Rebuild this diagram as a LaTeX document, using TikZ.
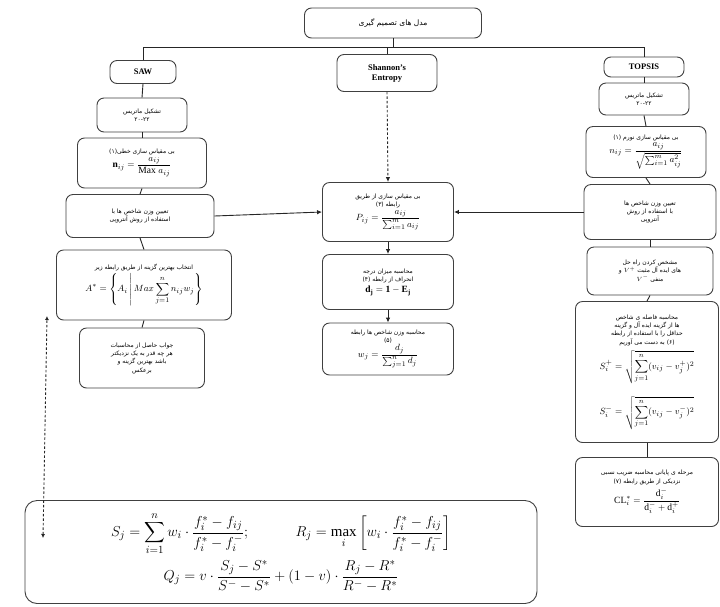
\documentclass[tikz,border=0pt]{standalone}
\usepackage{amsmath}
\usepackage{fontspec}
\setmainfont{Liberation Serif}
\newfontfamily\fafont[Script=Arabic]{DejaVu Sans}
\TeXXeTstate=1
\usetikzlibrary{arrows.meta}
\newcommand\fa[1]{\beginR #1\endR}
\newcommand\mth[1]{{\fontsize{9.5}{11}\selectfont$\displaystyle #1$}}
\tikzset{
  bx/.style={draw=black!75, line width=0.9pt, rounded corners=7pt, fill=white, align=center, inner sep=2pt,
             font=\fafont\fontsize{6}{8.3}\selectfont},
  lbl/.style={bx, font=\bfseries\fontsize{8.5}{10}\selectfont},
  ln/.style={draw=black!85, line width=0.9pt},
  arr/.style={ln, -{Latex[length=5pt,width=4.5pt]}},
  darr/.style={ln, dashed, dash pattern=on 2.5pt off 2pt, -{Latex[length=5pt,width=4.5pt]}},
  ddarr/.style={ln, dashed, dash pattern=on 2.5pt off 2pt, {Latex[length=4pt,width=4pt]}-{Latex[length=4pt,width=4pt]}}
}
\begin{document}
\begin{tikzpicture}[x=1pt,y=-1pt]
\useasboundingbox (0,0) rectangle (720,606);
% top
\node[bx, minimum width=177pt, minimum height=30pt, font=\fafont\fontsize{7.5}{9}\selectfont] (top) at (393,23) {\fa{مدل های تصمیم گیری}};
\coordinate (bus) at (393,47);
% SAW column
\node[lbl, minimum width=66pt, minimum height=23pt] (saw) at (143,72) {SAW};
\node[bx, minimum width=90pt, minimum height=34pt] (saw2) at (142,115) {\fa{تشکیل ماتریس}\\ \beginL ۲۰-۲۲\endL};
\node[bx, minimum width=129pt, minimum height=50pt] (saw3) at (142,163) {\fa{بی مقیاس سازی خطی(۱)}\\[1pt] \mth{\mathbf{n}_{ij}=\frac{a_{ij}}{\mathrm{Max}\;a_{ij}}}};
\node[bx, minimum width=148pt, minimum height=43pt] (saw4) at (140,216) {\fa{تعیین وزن شاخص ها با}\\ \fa{استفاده از روش آنتروپی}};
\node[bx, minimum width=175pt, minimum height=70pt] (saw5) at (144,285) {\fa{انتخاب بهترین گزینه از طریق رابطه زیر}\\[1pt] \mth{A^*=\left\{A_i\,\middle|\,Max\sum_{j=1}^{n} n_{ij}w_j\right\}}};
\node[bx, minimum width=125pt, minimum height=60pt] (saw6) at (142,358) {\fa{جواب حاصل از محاسبات}\\ \fa{هر چه قدر به یک نزدیکتر}\\ \fa{باشد بهترین گزینه و}\\ \fa{برعکس}};
% Entropy column
\node[lbl, minimum width=100pt, minimum height=37pt, align=center] (sh) at (387,73) {Shannon's\\Entropy};
\node[bx, minimum width=131pt, minimum height=59pt] (e1) at (388,212) {\fa{بی مقیاس سازی از طریق}\\ \fa{رابطه (۳)}\\[1pt] \mth{P_{ij}=\frac{a_{ij}}{\sum_{i=1}^{m}a_{ij}}}};
\node[bx, minimum width=131pt, minimum height=55pt] (e2) at (388,282) {\fa{محاسبه میزان درجه}\\ \fa{انحراف از رابطه (۴)}\\[3pt] \mth{\mathbf{d_j=1-E_j}}};
\node[bx, minimum width=131pt, minimum height=52pt] (e3) at (388,349) {\fa{محاسبه وزن شاخص ها رابطه}\\ \fa{(۵)}\\ \mth{w_j=\frac{d_j}{\sum_{j=1}^{n}d_j}}};
% TOPSIS column
\node[lbl, minimum width=80pt, minimum height=20pt] (tp) at (644,67) {TOPSIS};
\node[bx, minimum width=90pt, minimum height=32pt] (t2) at (644,99) {\fa{تشکیل ماتریس}\\ \beginL ۲۰-۲۲\endL};
\node[bx, minimum width=120pt, minimum height=51pt] (t3) at (646,152) {\fa{بی مقیاس سازی نورم (۱)}\\[1pt] \mth{n_{ij}=\frac{a_{ij}}{\sqrt{\sum_{i=1}^{m}a_{ij}^2}}}};
\node[bx, minimum width=132pt, minimum height=55pt] (t4) at (650,212) {\fa{تعیین وزن شاخص ها}\\ \fa{با استفاده از روش}\\ \fa{آنتروپی}};
\node[bx, minimum width=126pt, minimum height=48pt] (t5) at (650,271) {\fa{مشخص کردن راه حل}\\ \fa{های ایده آل مثبت \beginL$V^{+}$\endL{} و}\\ \fa{منفی \beginL$V^{-}$\endL}};
\node[bx, minimum width=143pt, minimum height=141pt] (t6) at (647,372) {\fa{محاسبه فاصله ی شاخص}\\ \fa{ها از گزینه ایده آل و گزینه}\\ \fa{حداقل را با استفاده از رابطه}\\ \fa{(۶) به دست می آوریم}\\[4pt] \mth{S_i^+=\sqrt{\sum_{j=1}^{n}(v_{ij}-v_j^+)^2}}\\[12pt] \mth{S_i^-=\sqrt{\sum_{j=1}^{n}(v_{ij}-v_j^-)^2}}};
\node[bx, minimum width=143pt, minimum height=69pt] (t7) at (647,492) {\fa{مرحله ی پایانی محاسبه ضریب نسبی}\\ \fa{نزدیکی از طریق رابطه (۷)}\\[3pt] \mth{\mathrm{CL}_i^*=\frac{\mathrm{d}_i^-}{\mathrm{d}_i^-+\mathrm{d}_i^+}}};
% bottom
\node[bx, rounded corners=12pt, minimum width=512pt, minimum height=103pt] (bot) at (281,552) {{\fontsize{15}{17}\selectfont$\displaystyle S_j=\sum_{i=1}^{n}w_i\cdot\frac{f_i^*-f_{ij}}{f_i^*-f_i^-};\qquad\quad R_j=\max_i\left[w_i\cdot\frac{f_i^*-f_{ij}}{f_i^*-f_i^-}\right]$}\\[4pt] {\fontsize{15}{17}\selectfont$\displaystyle Q_j=v\cdot\frac{S_j-S^*}{S^--S^*}+(1-v)\cdot\frac{R_j-R^*}{R^--R^*}$}};
% connectors
\draw[ln] (top.south) -- (bus);
\draw[ln] (saw.north) -- (saw.north |- bus) -- (tp.north |- bus) -- (tp.north);
\draw[ln] (sh.north) -- (sh.north |- bus);
\draw[ln] (saw.south) -- (saw2.north);
\draw[ln] (saw2.south) -- (saw3.north);
\draw[ln] (saw3.south) -- (saw4.north);
\draw[ln] (saw4.south) -- (saw5.north);
\draw[ln] (saw5.south) -- (saw6.north);
\draw[ln] (tp.south) -- (t2.north);
\draw[ln] (t2.south) -- (t3.north);
\draw[ln] (t3.south) -- (t4.north);
\draw[ln] (t4.south) -- (t5.north);
\draw[ln] (t5.south) -- (t6.north);
\draw[ln] (t6.south) -- (t7.north);
\draw[darr] (sh.south) -- (e1.north);
\draw[arr] (e1.south) -- (e2.north);
\draw[arr] (e2.south) -- (e3.north);
\draw[arr] (saw4.east) -- (e1.west);
\draw[arr] (t4.west) -- (e1.east);
\coordinate (dtop) at (47,316);
\coordinate (dbot) at (43,538);
\draw[ddarr] (dbot) -- (dtop);
\end{tikzpicture}
\end{document}
